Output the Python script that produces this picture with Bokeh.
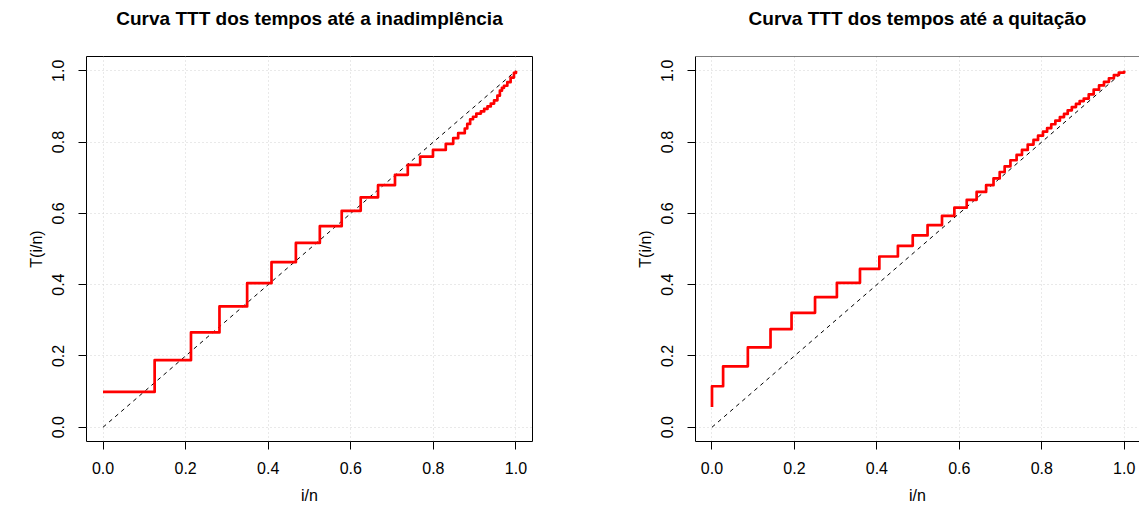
from bokeh.plotting import figure
from bokeh.layouts import row
from bokeh.models import FixedTicker, PrintfTickFormatter, Span, Range1d, Title
from bokeh.embed import file_html
from bokeh.resources import INLINE

# ---- data ----
ticks = [0.0, 0.2, 0.4, 0.6, 0.8, 1.0]
diag = [0.0, 1.0]

titles = ["Curva TTT dos tempos até a inadimplência",
          "Curva TTT dos tempos até a quitação"]
xlabel = "i/n"
ylabel = "T(i/n)"

# TTT curve, time to default (i/n, T(i/n)) at step corners
inad_x = [0.0, 0.125, 0.213, 0.282, 0.349, 0.408, 0.467, 0.525, 0.578, 0.624,
          0.666, 0.707, 0.738, 0.768, 0.799, 0.830, 0.848, 0.860, 0.876, 0.882,
          0.889, 0.896, 0.904, 0.915, 0.923, 0.931, 0.939, 0.947, 0.955, 0.961,
          0.966, 0.971, 0.979, 0.987, 0.995, 1.0]
inad_y = [0.099, 0.188, 0.266, 0.339, 0.404, 0.463, 0.517, 0.564, 0.607, 0.645,
          0.679, 0.708, 0.736, 0.759, 0.778, 0.795, 0.811, 0.825, 0.838, 0.851,
          0.864, 0.871, 0.880, 0.886, 0.893, 0.900, 0.908, 0.917, 0.930, 0.944,
          0.952, 0.958, 0.968, 0.981, 0.994, 1.0]

# TTT curve, time to payoff
quit_x = [0.0, 0.0, 0.027, 0.087, 0.142, 0.193, 0.250, 0.303, 0.359, 0.406,
          0.451, 0.487, 0.523, 0.558, 0.588, 0.618, 0.642, 0.665, 0.683, 0.698,
          0.710, 0.724, 0.739, 0.752, 0.766, 0.780, 0.791, 0.803, 0.813, 0.823,
          0.833, 0.844, 0.854, 0.863, 0.873, 0.883, 0.892, 0.902, 0.914, 0.926,
          0.939, 0.951, 0.963, 0.975, 0.987, 1.0]
quit_y = [0.057, 0.115, 0.171, 0.224, 0.275, 0.321, 0.365, 0.405, 0.444, 0.479,
          0.509, 0.538, 0.567, 0.593, 0.616, 0.638, 0.660, 0.679, 0.698, 0.716,
          0.732, 0.749, 0.764, 0.778, 0.793, 0.806, 0.818, 0.829, 0.839, 0.850,
          0.860, 0.870, 0.879, 0.889, 0.898, 0.907, 0.915, 0.922, 0.934, 0.947,
          0.959, 0.969, 0.979, 0.988, 0.995, 1.0]

FONT = "Liberation Sans"
Y0, Y1 = -0.04, 1.04


def make_fig(title, xs, ys, border_left, frame_w, border_right, x_end, outline):
    p = figure(frame_width=frame_w, frame_height=385,
               min_border_left=border_left, min_border_right=border_right,
               min_border_top=56, min_border_bottom=80,
               x_range=Range1d(-0.04, x_end), y_range=Range1d(Y0, Y1),
               output_backend="svg", toolbar_location=None, tools="")
    p.title.text = title
    p.title.align = "center"
    p.title.text_font = FONT
    p.title.text_font_size = "19px"
    p.title.text_font_style = "bold"
    p.title.text_color = "black"
    p.title.standoff = 0
    # empty spacer between title and plot box
    p.add_layout(Title(text=" ", text_font_size="16px", standoff=9), "above")
    p.background_fill_color = "white"
    p.border_fill_color = "white"
    if outline:
        p.outline_line_color = "black"
        p.outline_line_width = 1
    else:
        p.outline_line_color = None
    for ax in (p.xaxis[0], p.yaxis[0]):
        ax.ticker = FixedTicker(ticks=ticks)
        ax.formatter = PrintfTickFormatter(format="%.1f")
        ax.major_tick_in = 0
        ax.major_tick_out = 8
        ax.minor_tick_line_color = None
        ax.major_tick_line_color = "black"
        ax.axis_line_color = None if outline else "black"
        ax.major_label_text_font = FONT
        ax.major_label_text_font_size = "16px"
        ax.major_label_text_color = "black"
        ax.axis_label_text_font = FONT
        ax.axis_label_text_font_size = "16px"
        ax.axis_label_text_font_style = "normal"
        ax.axis_label_text_color = "black"
    p.xaxis.axis_label = xlabel
    p.yaxis.axis_label = ylabel
    p.xaxis.major_label_standoff = 12
    p.xaxis.axis_label_standoff = 10
    p.yaxis.major_label_standoff = 14
    p.yaxis.axis_label_standoff = 5
    p.yaxis.major_label_orientation = "vertical"
    p.grid.ticker = FixedTicker(ticks=ticks)
    p.grid.grid_line_color = "#d3d3d3"
    p.grid.grid_line_dash = "1 3"
    p.grid.grid_line_width = 1
    if not outline:
        p.add_layout(Span(location=Y1, dimension="width", line_color="black", line_width=1))
    p.line(diag, diag, line_color="black", line_width=1, line_dash="4 4")
    p.step(xs, ys, mode="after", line_color="red", line_width=2.7,
           line_join="round")
    return p


p1 = make_fig(titles[0], inad_x, inad_y, 86, 446, 68, 1.04, True)
p2 = make_fig(titles[1], quit_x, quit_y, 95, 444, 0, (1139 - 711.7) / 412.0, False)

layout = row(p1, p2)
open("out.html", "w").write(file_html(layout, INLINE))
